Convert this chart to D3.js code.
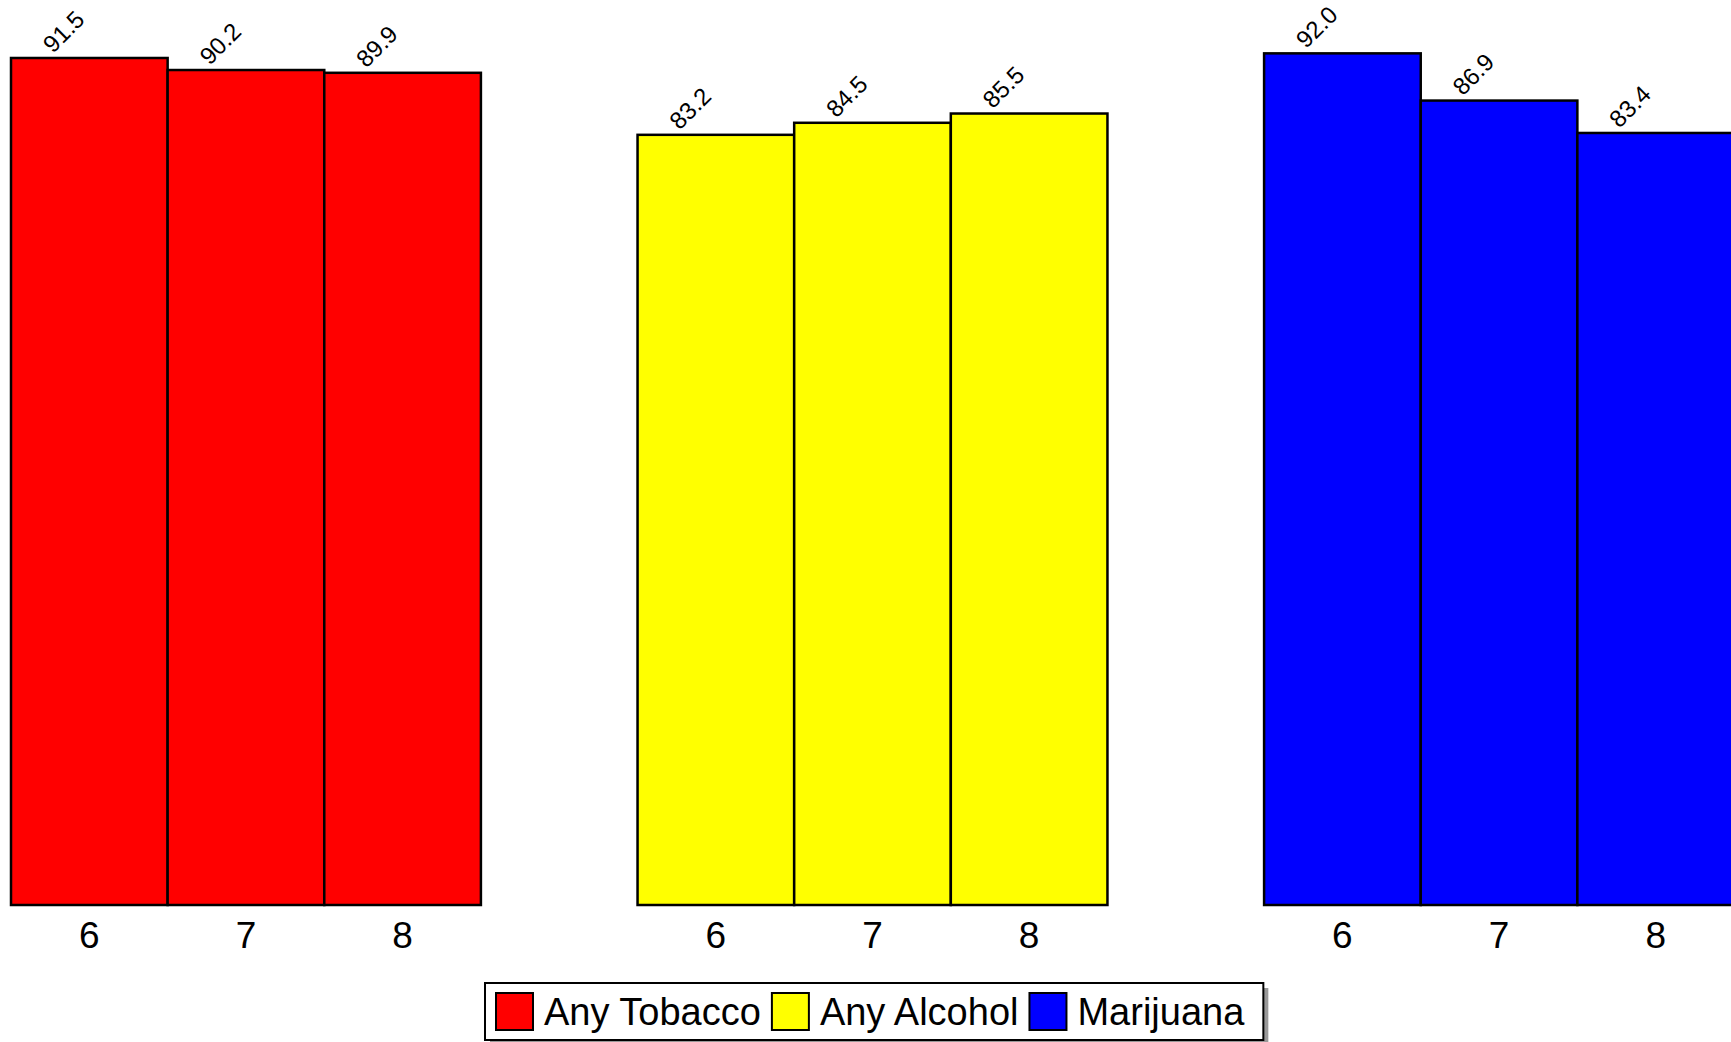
<!DOCTYPE html>
<html>
<head>
<meta charset="utf-8">
<script src="https://cdn.jsdelivr.net/npm/d3@7"></script>
<style>
  body { margin: 0; background: #fff; }
  text { font-family: "Liberation Sans", Arial, sans-serif; }
</style>
</head>
<body>
<div id="app"></div>
<script>
// substances (groups) and grades
const substances = ['Any Tobacco', 'Any Alcohol', 'Marijuana'];
const grades = ['6', '7', '8'];
const colors = ['#ff0000', '#ffff00', '#0000ff'];

// percent values per substance, in grade order
const tobacco = [91.5, 90.2, 89.9];
const alcohol = [83.2, 84.5, 85.5];
const marijuana = [92.0, 86.9, 83.4];

const series = [tobacco, alcohol, marijuana];

const wrapper = { width: 1731, height: 1042 };
const baseY = 905;

const svg = d3.select('#app')
  .append('svg')
    .attr('width', wrapper.width)
    .attr('height', wrapper.height);

const x0 = d3.scaleBand()
  .domain(substances)
  .range([11, 1734])
  .paddingInner(0.25)
  .paddingOuter(0);

const x1 = d3.scaleBand()
  .domain(grades)
  .range([0, x0.bandwidth()]);

const y = d3.scaleLinear()
  .domain([0, 100])
  .range([baseY, baseY - 925.7]);

const groups = svg.selectAll('g.group')
  .data(substances)
  .join('g')
    .attr('class', 'group')
    .attr('transform', d => `translate(${x0(d)},0)`);

groups.each(function (s, si) {
  const g = d3.select(this);
  const rows = grades.map((gr, i) => ({ grade: gr, value: series[si][i] }));

  g.selectAll('rect')
    .data(rows)
    .join('rect')
      .attr('x', d => x1(d.grade))
      .attr('y', d => y(d.value))
      .attr('width', x1.bandwidth())
      .attr('height', d => baseY - y(d.value))
      .attr('fill', colors[si])
      .attr('stroke', '#000')
      .attr('stroke-width', 2.5);

  // value labels, rotated
  g.selectAll('text.val')
    .data(rows)
    .join('text')
      .attr('class', 'val')
      .attr('transform', d => `translate(${x1(d.grade) + 42},${y(d.value) - 4}) rotate(-45)`)
      .attr('font-size', 24)
      .text(d => d.value.toFixed(1));

  // grade labels under each bar
  g.selectAll('text.grade')
    .data(rows)
    .join('text')
      .attr('class', 'grade')
      .attr('x', d => x1(d.grade) + x1.bandwidth() / 2)
      .attr('y', 948)
      .attr('text-anchor', 'middle')
      .attr('font-size', 37)
      .text(d => d.grade);
});

// legend
const legend = svg.append('g');
const shadow = legend.append('rect').attr('fill', '#999');
const box = legend.append('rect').attr('fill', '#fff').attr('stroke', '#000').attr('stroke-width', 2);

let lx = 496;
substances.forEach((s, i) => {
  legend.append('rect')
    .attr('x', lx)
    .attr('y', 993)
    .attr('width', 37)
    .attr('height', 37)
    .attr('fill', colors[i])
    .attr('stroke', '#000')
    .attr('stroke-width', 2);
  const t = legend.append('text')
    .attr('x', lx + 48)
    .attr('y', 1025)
    .attr('font-size', 38)
    .text(s);
  lx += 48 + t.node().getComputedTextLength() + 11;
});

const boxX = 485, boxY = 983, boxW = lx + 8 - boxX, boxH = 57;
box.attr('x', boxX).attr('y', boxY).attr('width', boxW).attr('height', boxH);
shadow.attr('x', boxX + 5).attr('y', boxY + 5).attr('width', boxW).attr('height', boxH);
</script>
</body>
</html>
